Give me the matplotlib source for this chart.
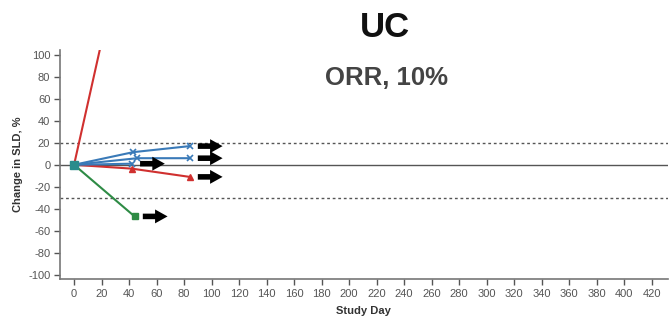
import matplotlib
matplotlib.use('Agg')
import matplotlib.pyplot as plt

plt.rcParams['font.family'] = ['Liberation Sans', 'DejaVu Sans']
plt.rcParams['axes.unicode_minus'] = False

# patient series: study day vs change in SLD (%)
red_up_days = [0, 42]
red_up_vals = [0, 235]
blue_top_days = [0, 43, 84]
blue_top_vals = [0, 11.5, 17]
blue_mid_days = [0, 46, 84]
blue_mid_vals = [0, 6, 6]
blue_low_days = [0, 42]
blue_low_vals = [0, 1]
red_low_days = [0, 42, 84]
red_low_vals = [0, -3.5, -11]
green_days = [0, 44]
green_vals = [0, -47]

# ongoing-treatment arrows (start day, end day, value)
arrow_start = [90, 90, 48, 90, 50]
arrow_end = [108, 108, 66, 108, 68]
arrow_vals = [17, 6, 1, -11, -47]

x_ticks = list(range(0, 421, 20))
y_ticks = list(range(-100, 101, 20))

RED = '#d0302f'
BLUE = '#3a7ab8'
GREEN = '#2e8b45'

fig = plt.figure(figsize=(6.7, 3.25), dpi=100)
ax = fig.add_axes([0.0896, 0.1415, 0.907, 0.7046])

ax.axhline(0, color='#555555', lw=1.0, zorder=1)
ax.axhline(20, color='#555555', lw=1.0, ls=(0, (2, 2)), zorder=1)
ax.axhline(-30, color='#555555', lw=1.0, ls=(0, (2, 2)), zorder=1)

ax.plot(red_up_days, red_up_vals, color=RED, lw=1.5, zorder=3)
ax.plot(red_low_days, red_low_vals, color=RED, lw=1.5, marker='^', ms=5, zorder=3)
ax.plot(green_days, green_vals, color=GREEN, lw=1.5, marker='s', ms=5, zorder=3)
for d, v in [(blue_top_days, blue_top_vals), (blue_mid_days, blue_mid_vals),
             (blue_low_days, blue_low_vals)]:
    ax.plot(d, v, color=BLUE, lw=1.5, marker='x', ms=5, mew=1.2, zorder=4)
ax.plot([0], [0], marker='s', ms=6, color='#2a8c8c', ls='none', zorder=5)

for s, e, v in zip(arrow_start, arrow_end, arrow_vals):
    ax.annotate('', xy=(e, v), xytext=(s, v),
                arrowprops=dict(arrowstyle='simple,head_length=0.9,head_width=1.0,tail_width=0.4',
                                lw=0, fc='black', ec='none', mutation_scale=10,
                                shrinkA=0, shrinkB=0), zorder=6)

ax.set_xlim(-10.2, 431.7)
ax.set_ylim(-104, 104.5)
ax.set_xticks(x_ticks)
ax.set_yticks(y_ticks)
ax.tick_params(labelsize=8, colors='#555555', length=4, width=1, pad=3)
for sp in ['top', 'right']:
    ax.spines[sp].set_visible(False)
for sp in ['left', 'bottom']:
    ax.spines[sp].set_color('#777777')
    ax.spines[sp].set_linewidth(1.2)

ax.set_xlabel('Study Day', fontsize=8, fontweight='bold', color='#333333', labelpad=5)
ax.set_ylabel('Change in SLD, %', fontsize=8, fontweight='bold', color='#333333', labelpad=4)

fig.text(0.575, 0.915, 'UC', ha='center', va='center', fontsize=25,
         fontweight='bold', color='#111111')
fig.text(0.577, 0.76, 'ORR, 10%', ha='center', va='center', fontsize=18.5,
         fontweight='bold', color='#444444')

fig.savefig('out.png', dpi=100, facecolor='white')
